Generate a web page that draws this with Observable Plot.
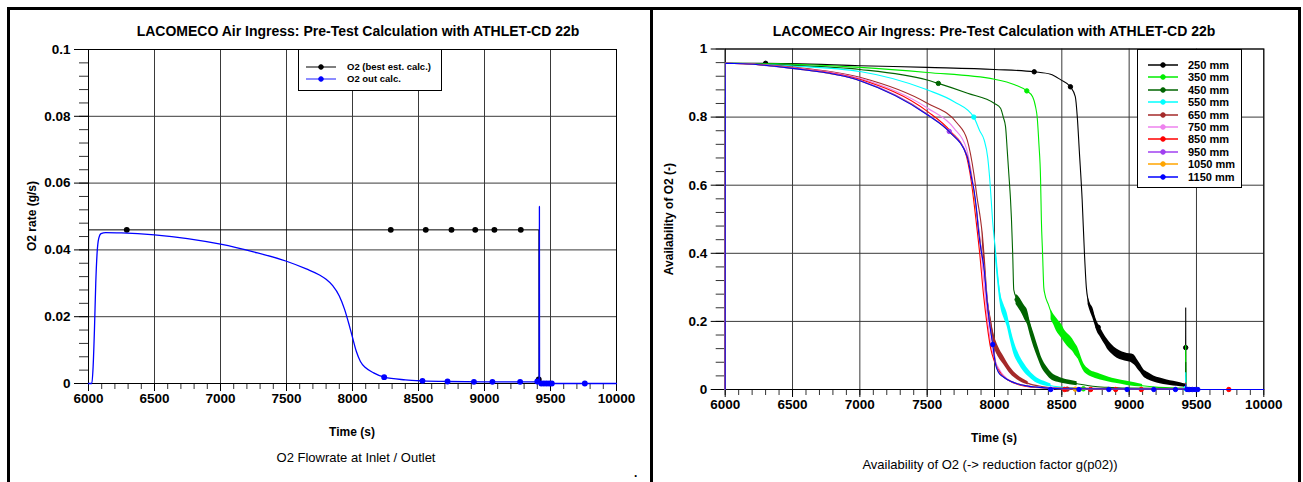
<!DOCTYPE html>
<html><head><meta charset="utf-8">
<script src="https://cdn.jsdelivr.net/npm/d3@7"></script>
<script src="https://cdn.jsdelivr.net/npm/@observablehq/plot@0.6"></script>
<style>
body{margin:0;background:#fff;}
#page{position:relative;width:1303px;height:482px;overflow:hidden;background:#fff;font-family:"Liberation Sans",Arial,sans-serif;color:#000;}
.abs{position:absolute;}
.bar{position:absolute;background:#000;}
.title{position:absolute;font-weight:bold;font-size:14px;line-height:16px;text-align:center;white-space:nowrap;width:600px;}
.xlab{position:absolute;font-weight:bold;font-size:12px;line-height:14px;text-align:center;white-space:nowrap;width:300px;}
.cap{position:absolute;font-weight:normal;font-size:13px;line-height:16px;text-align:center;white-space:nowrap;width:400px;}
.ylab{position:absolute;font-weight:bold;font-size:12px;line-height:16px;height:16px;text-align:center;white-space:nowrap;width:200px;transform:rotate(-90deg);}
.legend{position:absolute;background:#fff;border:1px solid #000;box-sizing:border-box;}
.row{position:absolute;left:0;height:12px;font-weight:bold;white-space:nowrap;}
.row svg{position:absolute;left:0;top:0;overflow:visible;}
.row span{position:absolute;top:0;line-height:12px;}
.plot{position:absolute;}
</style></head>
<body><div id="page"></div>
<script>
// ---------- shared axes ----------
const xTicks = [6000, 6500, 7000, 7500, 8000, 8500, 9000, 9500, 10000];
const yTicksLeft = [0, 0.02, 0.04, 0.06, 0.08, 0.1];
const yTicksRight = [0, 0.2, 0.4, 0.6, 0.8, 1];
const titleText = "LACOMECO Air Ingress: Pre-Test Calculation with ATHLET-CD 22b";

// ---------- left chart: O2 flowrate ----------
const inletLabel = "O2 (best est. calc.)";
const outletLabel = "O2 out calc.";
const inletO2 = [[6000,0],[6001,0.046],[9412,0.046],[9413,0.0012],[9420,0],[10000,0]];
const inletMarks = [[6290,0.046],[8290,0.046],[8555,0.046],[8750,0.046],[8930,0.046],[9075,0.046],[9275,0.046],[9411,0.0012]];
const outletO2 = [[6000,0],[6025,0],[6035,0.005],[6045,0.016],[6055,0.03],[6065,0.039],[6078,0.0435],[6095,0.0449],[6130,0.0452],[6250,0.0451],[6500,0.0445],[6750,0.0434],[7000,0.0417],[7250,0.0394],[7500,0.0366],[7650,0.0343],[7750,0.0325],[7800,0.0312],[7850,0.0293],[7900,0.0262],[7940,0.0222],[7975,0.0175],[8000,0.0138],[8030,0.0095],[8060,0.0066],[8100,0.0047],[8160,0.0032],[8240,0.0019],[8400,0.0011],[8530,0.0008],[8720,0.0006],[9000,0.0005],[9400,0.0005],[9414,0.001],[9415,0.053],[9416,0.053],[9417,0.0008],[9430,0],[10000,0]];
const outletMarks = [[8240,0.0019],[8530,0.0008],[8720,0.0006],[8920,0.0005],[9060,0.0005],[9270,0.0005],[9400,0.0006],[9430,0],[9450,0],[9470,0],[9490,0],[9510,0],[9760,0]];

// ---------- right chart: availability of O2 ----------
const seriesNames = ["250 mm","350 mm","450 mm","550 mm","650 mm","750 mm","850 mm","950 mm","1050 mm","1150 mm"];
const seriesColors = ["#000000","#00ee00","#006400","#00ffff","#a52a2a","#ee82ee","#ff0000","#a040f0","#ffa500","#0000ff"];

const s250 = [[6000,0],[6001,0.958],[6300,0.958],[6500,0.957],[7000,0.951],[7500,0.946],[8000,0.94],[8295,0.933],[8416,0.926],[8490,0.91],[8564,0.889],[8600,0.86],[8615,0.80],[8630,0.70],[8651,0.557],[8668,0.40],[8682,0.30],[8695,0.262],[8730,0.225],[8762,0.185],[8800,0.16],[8837,0.135],[8911,0.105],[8986,0.095],[9035,0.085],[9070,0.065],[9109,0.047],[9183,0.031],[9282,0.021],[9381,0.015],[9419,0.011],[9420,0.24],[9421,0.002],[9430,0],[10000,0]];
const n250 = [[8695,0.25,0.272],[8715,0.225,0.25],[8730,0.21,0.24],[8750,0.185,0.212],[8762,0.17,0.2],[8785,0.155,0.182],[8800,0.145,0.172],[8820,0.132,0.158],[8837,0.12,0.148],[8870,0.105,0.132],[8911,0.092,0.118],[8950,0.086,0.11],[8986,0.082,0.106],[9020,0.078,0.104],[9040,0.072,0.1],[9060,0.062,0.088],[9080,0.052,0.076],[9109,0.037,0.058],[9140,0.029,0.05],[9183,0.022,0.04],[9230,0.017,0.034],[9282,0.013,0.028],[9330,0.01,0.024],[9381,0.008,0.02],[9419,0.006,0.016]];
const m250 = [[6300,0.958],[8295,0.933],[8564,0.889],[8770,0.183],[9420,0.123]];

const s350 = [[6000,0],[6001,0.958],[6500,0.955],[7000,0.946],[7500,0.931],[8000,0.911],[8150,0.895],[8240,0.877],[8283,0.86],[8305,0.83],[8317,0.80],[8330,0.72],[8342,0.62],[8348,0.50],[8357,0.40],[8366,0.30],[8374,0.28],[8400,0.25],[8440,0.205],[8490,0.17],[8540,0.145],[8614,0.105],[8661,0.065],[8713,0.046],[8787,0.036],[8900,0.024],[8985,0.018],[9100,0.011],[9200,0.007],[9300,0.005],[9419,0.004],[9420,0.13],[9421,0.001],[9430,0],[10000,0]];
const n350 = [[8420,0.205,0.235],[8440,0.19,0.22],[8460,0.172,0.21],[8480,0.16,0.2],[8500,0.15,0.19],[8520,0.138,0.175],[8540,0.128,0.165],[8560,0.12,0.158],[8580,0.112,0.148],[8600,0.1,0.135],[8620,0.09,0.122],[8640,0.072,0.1],[8661,0.055,0.078],[8690,0.043,0.063],[8713,0.038,0.056],[8750,0.032,0.05],[8787,0.028,0.045],[8850,0.022,0.036],[8900,0.018,0.031],[8985,0.012,0.024],[9100,0.007,0.015]];
const m350 = [[8240,0.877],[8660,0.002]];

const s450 = [[6000,0],[6001,0.958],[6500,0.952],[7000,0.94],[7500,0.909],[7583,0.899],[7800,0.87],[8000,0.84],[8045,0.826],[8065,0.80],[8082,0.772],[8095,0.70],[8106,0.635],[8119,0.557],[8126,0.50],[8135,0.40],[8143,0.293],[8168,0.264],[8205,0.24],[8243,0.215],[8292,0.147],[8354,0.075],[8428,0.036],[8500,0.025],[8614,0.017],[8750,0.009],[8870,0.006],[9000,0.004],[9419,0.003],[9420,0.08],[9421,0.001],[9430,0],[10000,0]];
const n450 = [[8160,0.25,0.28],[8185,0.235,0.27],[8205,0.222,0.258],[8225,0.205,0.245],[8243,0.192,0.235],[8265,0.16,0.2],[8292,0.125,0.165],[8320,0.095,0.13],[8354,0.062,0.09],[8390,0.042,0.066],[8428,0.027,0.048],[8470,0.021,0.038],[8500,0.018,0.033],[8560,0.014,0.027],[8614,0.011,0.023]];
const m450 = [[7583,0.899],[8168,0.264]];

const s550 = [[6000,0],[6001,0.958],[6500,0.95],[7000,0.934],[7500,0.88],[7700,0.845],[7846,0.80],[7890,0.76],[7923,0.733],[7950,0.68],[7961,0.635],[7975,0.56],[7985,0.50],[8007,0.408],[8025,0.33],[8045,0.264],[8094,0.205],[8143,0.124],[8218,0.065],[8317,0.026],[8490,0.007],[8700,0.003],[9419,0.002],[9420,0.05],[9421,0.001],[9430,0],[10000,0]];
const n550 = [[8007,0.385,0.43],[8025,0.31,0.35],[8045,0.245,0.285],[8070,0.21,0.25],[8094,0.185,0.225],[8120,0.14,0.18],[8143,0.105,0.145],[8180,0.075,0.105],[8218,0.052,0.078],[8260,0.035,0.055],[8317,0.018,0.034],[8370,0.011,0.024],[8420,0.007,0.016]];
const m550 = [[7846,0.80],[9420,0.003]];

const s650 = [[6000,0],[6001,0.958],[6500,0.947],[7000,0.917],[7504,0.84],[7723,0.782],[7797,0.733],[7847,0.633],[7872,0.56],[7896,0.50],[7909,0.457],[7925,0.38],[7946,0.264],[7970,0.2],[7995,0.147],[8030,0.11],[8069,0.085],[8120,0.055],[8168,0.036],[8250,0.018],[8350,0.009],[8500,0.004],[9419,0.001],[9420,0.02],[9421,0],[10000,0]];
const n650 = [[7909,0.435,0.475],[7925,0.35,0.4],[7946,0.24,0.285],[7970,0.18,0.22],[7995,0.128,0.165],[8030,0.095,0.125],[8069,0.073,0.097],[8120,0.045,0.064],[8168,0.029,0.043],[8250,0.013,0.023]];
const m650 = [[8540,0.001]];

const s750 = [[6000,0],[6001,0.958],[6500,0.945],[7000,0.914],[7504,0.826],[7700,0.767],[7790,0.71],[7835,0.62],[7874,0.50],[7900,0.41],[7925,0.30],[7950,0.20],[7975,0.13],[8000,0.09],[8050,0.05],[8100,0.03],[8200,0.013],[8350,0.005],[8600,0.002],[9419,0.001],[9420,0.01],[9421,0],[10000,0]];
const m750 = [[8420,0.001]];

const s850 = [[6000,0],[6001,0.958],[6500,0.944],[7000,0.911],[7504,0.816],[7677,0.757],[7780,0.70],[7828,0.61],[7862,0.50],[7890,0.40],[7918,0.28],[7945,0.19],[7972,0.12],[8000,0.082],[8050,0.045],[8100,0.028],[8200,0.012],[8350,0.005],[8600,0.002],[9419,0.001],[9420,0.01],[9421,0],[10000,0]];
const m850 = [[8521,0],[8714,0],[8900,0],[9090,0],[9740,0]];

const s950 = [[6000,0],[6001,0.958],[6500,0.943],[7000,0.908],[7504,0.808],[7664,0.758],[7797,0.688],[7832,0.62],[7868,0.52],[7902,0.41],[7925,0.35],[7950,0.25],[7970,0.18],[7990,0.13],[8010,0.075],[8035,0.05],[8070,0.036],[8120,0.024],[8170,0.017],[8250,0.01],[8320,0.007],[8500,0.002],[9419,0.001],[9420,0.01],[9421,0],[10000,0]];
const m950 = [[7664,0.758],[9440,0]];

const s1050 = [[6000,0],[6001,0.958],[6500,0.943],[7000,0.907],[7504,0.807],[7664,0.757],[7797,0.686],[7831,0.62],[7866,0.52],[7901,0.41],[7923,0.355],[7947,0.255],[7967,0.185],[7988,0.13],[8008,0.075],[8032,0.05],[8070,0.036],[8120,0.024],[8169,0.017],[8250,0.01],[8318,0.007],[8500,0.002],[9419,0.001],[9420,0.01],[9421,0],[10000,0]];
const m1050 = [[8600,0.001],[9460,0]];

const s1150 = [[6000,0],[6001,0.958],[6500,0.943],[7000,0.907],[7504,0.806],[7664,0.757],[7797,0.684],[7830,0.62],[7850,0.58],[7866,0.53],[7880,0.47],[7900,0.41],[7921,0.36],[7945,0.26],[7965,0.19],[7987,0.132],[8007,0.075],[8030,0.05],[8069,0.036],[8120,0.024],[8168,0.017],[8250,0.01],[8317,0.007],[8500,0.002],[9419,0.001],[9420,0.015],[9421,0],[10000,0]];
const m1150 = [[7987,0.132],[8417,0],[8627,0],[8849,0],[8985,0],[9183,0],[9344,0],[9430,0],[9450,0],[9470,0],[9490,0],[9510,0]];

// ---------- build ----------
const page = document.getElementById("page");
function el(cls, css, text) {
  const d = document.createElement("div");
  d.className = cls;
  Object.assign(d.style, css);
  if (text != null) d.textContent = text;
  page.appendChild(d);
  return d;
}

const X = d => d[0], Y = d => d[1];
const fmtX = d3.format("d");
const fmtY = d => String(d);
const minorX = d3.range(6000, 10001, 100);
const plotStyle = {fontFamily: "'Liberation Sans', Arial, sans-serif", fontSize: "13.5px", fontWeight: "bold", color: "#000", background: "transparent", overflow: "visible"};
const gridStyle = {stroke: "#3a3a3a", strokeOpacity: 1, strokeWidth: 1};

function axes(yTicks, minorY) {
  return [
    Plot.gridX(xTicks, gridStyle),
    Plot.gridY(yTicks, gridStyle),
    Plot.axisX(minorX, {tickSize: 6, tickFormat: () => "", label: null, stroke: "#333"}),
    Plot.axisX(xTicks, {tickSize: 8, tickPadding: 2, tickFormat: fmtX, label: null}),
    Plot.axisY(minorY, {tickSize: 9, tickFormat: () => "", label: null, stroke: "#333"}),
    Plot.axisY(yTicks, {tickSize: 14, tickPadding: 4, tickFormat: fmtY, label: null}),
    Plot.frame({stroke: "#000", strokeWidth: 1})
  ];
}

// left plot
const leftPlot = Plot.plot({
  width: 640, height: 410,
  marginLeft: 78, marginRight: 34, marginTop: 39, marginBottom: 37,
  style: plotStyle,
  x: {domain: [6000, 10000]},
  y: {domain: [0, 0.1]},
  marks: [
    ...axes(yTicksLeft, d3.range(0, 0.1001, 0.004)),
    Plot.line(inletO2, {x: X, y: Y, stroke: "#000", strokeWidth: 1}),
    Plot.dot(inletMarks, {x: X, y: Y, r: 2.2, fill: "#000", stroke: "#000"}),
    Plot.line(outletO2, {x: X, y: Y, stroke: "#0000ff", strokeWidth: 1.3, curve: "monotone-x"}),
    Plot.dot(outletMarks, {x: X, y: Y, r: 2.2, fill: "#0000ff", stroke: "#0000ff"})
  ]
});
leftPlot.classList.add("plot");
Object.assign(leftPlot.style, {position: "absolute", left: "10px", top: "10px"});
page.appendChild(leftPlot);

// right plot
const bands = [n250, n350, n450, n550, n650, null, null, null, null, null];
const lines = [s250, s350, s450, s550, s650, s750, s850, s950, s1050, s1150];
const markers = [m250, m350, m450, m550, m650, m750, m850, m950, m1050, m1150];
const seriesMarks = [];
lines.forEach((s, i) => {
  if (bands[i]) seriesMarks.push(Plot.areaY(bands[i], {x: X, y1: d => d[1], y2: d => d[2], fill: seriesColors[i], fillOpacity: 1, curve: "monotone-x"}));
  seriesMarks.push(Plot.line(s, {x: X, y: Y, stroke: seriesColors[i], strokeWidth: 1.1, curve: "monotone-x"}));
  seriesMarks.push(Plot.dot(markers[i], {x: X, y: Y, r: 2.2, fill: seriesColors[i], stroke: i === 0 ? "#000" : seriesColors[i], strokeWidth: 1}));
});
const rightPlot = Plot.plot({
  width: 643, height: 420,
  marginLeft: 70.7, marginRight: 33.7, marginTop: 38.5, marginBottom: 41,
  style: plotStyle,
  x: {domain: [6000, 10000]},
  y: {domain: [0, 1]},
  marks: [
    ...axes(yTicksRight, d3.range(0, 1.001, 0.04)),
    ...seriesMarks
  ]
});
rightPlot.classList.add("plot");
Object.assign(rightPlot.style, {position: "absolute", left: "654px", top: "10px"});
page.appendChild(rightPlot);

// panel borders
el("bar", {left: "7px", top: "7px", width: "1294px", height: "3px"});
el("bar", {left: "7px", top: "7px", width: "3px", height: "475px"});
el("bar", {left: "650px", top: "7px", width: "3px", height: "475px"});
el("bar", {left: "1298px", top: "7px", width: "3px", height: "475px"});

// titles & labels
el("title", {left: "58px", top: "23px"}, titleText);
el("title", {left: "694px", top: "23px"}, titleText);
el("xlab", {left: "202px", top: "425px"}, "Time (s)");
el("xlab", {left: "844px", top: "431px"}, "Time (s)");
el("cap", {left: "156px", top: "450px"}, "O2 Flowrate at Inlet / Outlet");
el("cap", {left: "790px", top: "457px"}, "Availability of O2 (-> reduction factor g(p02))");
el("ylab", {left: "-68px", top: "208px"}, "O2 rate (g/s)");
el("ylab", {left: "569px", top: "211px"}, "Availability of O2 (-)");
el("abs", {left: "634px", top: "466px", fontSize: "12px", fontWeight: "bold"}, ".");

// legends
function legend(box, entries, rowTop, rowStep, fontSize, lineX0, lineX1, textX, lineColors) {
  const lg = el("legend", box);
  entries.forEach((e, i) => {
    const r = document.createElement("div");
    r.className = "row";
    r.style.top = (rowTop + i * rowStep - 6) + "px";
    r.style.width = "100%";
    r.style.fontSize = fontSize;
    const ns = "http://www.w3.org/2000/svg";
    const svg = document.createElementNS(ns, "svg");
    svg.setAttribute("width", "60"); svg.setAttribute("height", "12");
    const ln = document.createElementNS(ns, "line");
    ln.setAttribute("x1", lineX0); ln.setAttribute("x2", lineX1);
    ln.setAttribute("y1", 6); ln.setAttribute("y2", 6);
    ln.setAttribute("stroke", lineColors ? lineColors[i] : e.color);
    ln.setAttribute("stroke-width", 1.5);
    svg.appendChild(ln);
    const c = document.createElementNS(ns, "circle");
    c.setAttribute("cx", (lineX0 + lineX1) / 2); c.setAttribute("cy", 6); c.setAttribute("r", 2.3);
    c.setAttribute("fill", e.color); c.setAttribute("stroke", e.color);
    svg.appendChild(c);
    r.appendChild(svg);
    const sp = document.createElement("span");
    sp.style.left = textX + "px";
    sp.textContent = e.name;
    r.appendChild(sp);
    lg.appendChild(r);
  });
}
legend({left: "298px", top: "49px", width: "144px", height: "42px"},
  [{name: inletLabel, color: "#000"}, {name: outletLabel, color: "#0000ff"}],
  17, 12, "9.5px", 7, 37, 48, ["#555", "#6666ff"]);
legend({left: "1137px", top: "49px", width: "105px", height: "139px"},
  seriesNames.map((n, i) => ({name: n, color: seriesColors[i]})),
  15, 12.4, "11px", 10, 40, 50, null);
</script>
</body></html>
